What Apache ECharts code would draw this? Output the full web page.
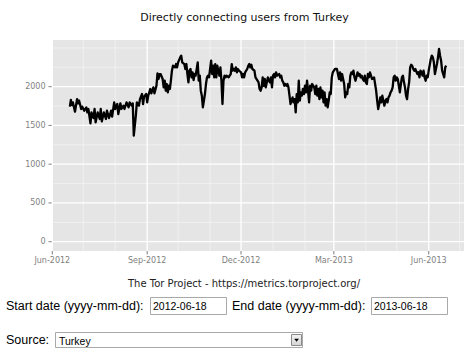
<!DOCTYPE html>
<html>
<head>
<meta charset="utf-8">
<script src="https://cdn.jsdelivr.net/npm/echarts@6/dist/echarts.min.js"></script>
<style>
html,body{margin:0;padding:0;background:#fff;}
#chart{width:473px;height:359px;}
</style>
</head>
<body>
<div id="chart"></div>
<script>
// ---- data (days since 2012-06-18, users) ----
const startDate = '2012-06-18';
const days = [0,1,2,3,5,7,8,9,11,12,14,16,17,18,20,21,23,24,25,27,29,30,31,33,35,36,38,40,41,43,44,46,47,49,50,52,53,55,57,58,60,61,62,64,65,67,68,70,71,72,74,75,76,78,79,81,82,84,85,86,87,
88,90,91,92,93,94,95,96,97,98,99,100,102,103,104,105,107,108,109,111,112,113,114,115,116,117,118,119,120,121,122,124,125,126,127,128,129,131,132,133,134,135,136,137,138,139,140,141,142,143,145,146,147,148,149,150,151,152,154,155,156,157,158,159,160,161,162,163,164,166,167,168,169,170,171,172,173,174,175,176,177,179,180,182,183,184,185,186,
187,188,189,190,191,192,193,194,195,196,197,198,199,200,201,203,204,205,206,207,208,209,210,211,212,213,214,216,217,218,219,220,221,222,223,224,225,226,227,228,229,230,231,232,233,234,235,237,238,239,240,241,242,243,244,245,246,247,248,249,250,251,252,253,254,255,257,259,260,261,262,263,264,266,267,268,269,270,271,272,273,274,275,276,277,279,280,281,282,
283,284,285,286,287,288,289,290,291,292,293,295,296,297,298,299,300,301,302,303,305,306,307,308,309,310,311,312,313,314,315,316,317,318,319,320,321,322,323,324,325,326,327,328,329,330,331,332,333,334,335,337,338,339,340,341,342,343,344,345,346,347,348,350,351,352,353,354,355,356,357,358,359,360,361,363,364,365];
const users = [1742,1828,1763,1797,1677,1840,1785,1819,1712,1742,1690,1733,1668,1712,1527,1668,1595,1712,1540,1668,1583,1712,1552,1668,1583,1690,1595,1690,1613,1797,1712,1776,1647,1785,1712,1755,1712,1797,1733,1797,1755,1785,1368,1626,1797,1755,1840,1905,1776,1871,1905,1797,1883,1970,1914,1991,1914,2012,2172,2099,2163,
2163,2099,1991,2077,1948,2034,1927,2012,1970,2077,2206,2270,2249,2292,2249,2314,2378,2400,2314,2292,2228,2292,2163,2056,2206,2228,2120,2185,2086,2163,2142,2314,2077,2142,1948,1884,1733,1905,2034,2120,2142,2120,2228,2335,2163,2270,2120,2292,2120,2270,2142,2249,2077,1776,2077,2142,2120,2142,2120,2142,2163,2292,2206,2228,2206,2249,2185,2228,2206,2185,2120,2163,2120,2185,2206,2228,2270,2292,2249,2283,2228,2206,2120,2077,2056,1970,1948,1991,
2120,2012,2099,1991,2056,2120,2077,2056,2120,1991,2142,2163,2120,2185,2142,2163,2120,2142,2077,2056,2012,2034,2012,2034,1991,1884,1776,1862,1797,1840,1669,1905,1797,2077,1819,1927,1884,1970,1905,2012,1927,2077,1948,1797,2012,1948,2034,1991,1905,2012,1884,1970,1840,1991,1862,1948,1797,1927,1755,1840,1733,1819,1927,1905,2120,2185,2228,2228,2163,2099,2185,2077,2163,2034,1862,1927,1905,2034,1991,2142,2185,2163,2206,2120,2077,2185,2142,2163,2120,
2142,2099,2077,2142,2056,2034,2163,2120,2185,2142,2099,2120,2034,1948,1819,1712,1776,1862,1797,1884,1755,1819,1840,1797,1862,1884,1927,1948,1991,2120,2142,2077,2120,2099,2012,1927,2034,2120,2142,2056,1991,1884,1840,1970,2056,2249,2283,2270,2228,2206,2228,2163,2185,2120,2206,2185,2142,2206,2120,2077,2142,2120,2206,2357,2400,2378,2314,2163,2228,2292,2378,2486,2400,2335,2206,2120,2249,2270];

// axis ticks / labels
const yMajorTicks = [0, 500, 1000, 1500, 2000];
const yMinorTicks = [250, 750, 1250, 1750, 2250, 2500];
const xMajorTicks = ['2012-06-01','2012-09-01','2012-12-01','2013-03-01','2013-06-01'];
const xMajorLabels = ['Jun-2012','Sep-2012','Dec-2012','Mar-2013','Jun-2013'];
const xMinorTicks = ['2012-07-01','2012-08-01','2012-10-01','2012-11-01','2013-01-01','2013-02-01','2013-04-01','2013-05-01','2013-07-01'];

const titleText = 'Directly connecting users from Turkey';
const captionText = 'The Tor Project - https://metrics.torproject.org/';
const startLabel = 'Start date (yyyy-mm-dd):';
const endLabel = 'End date (yyyy-mm-dd):';
const startValue = '2012-06-18';
const endValue = '2013-06-18';
const sourceLabel = 'Source:';
const sourceValue = 'Turkey';

// ---- build ----
const DAY = 86400000;
function utc(s){ const p = s.split('-').map(Number); return Date.UTC(p[0], p[1]-1, p[2]); }
const t0 = utc(startDate);
const lineData = days.map((d, i) => [t0 + d * DAY, users[i]]);
const X_MIN = utc('2012-05-31') + 17 * 3600000;
const X_MAX = utc('2013-07-05') + 5 * 3600000;
const Y_MIN = -120, Y_MAX = 2602;

const axisFont = 'normal 8px "DejaVu Sans"';
const tickColor = '#7f7f7f';

function vLines(labels, major){
  return function(params, api){
    const cs = params.coordSys;
    const x = api.coord([api.value(0), 0])[0];
    const children = [{
      type: 'line',
      shape: {x1: x, y1: cs.y, x2: x, y2: cs.y + cs.height},
      style: {stroke: major ? '#ffffff' : '#f2f2f2', lineWidth: major ? 1.3 : 0.9}
    }];
    if (major) {
      children.push({
        type: 'line',
        shape: {x1: x, y1: cs.y + cs.height, x2: x, y2: cs.y + cs.height + 3.5},
        style: {stroke: tickColor, lineWidth: 1}
      });
      children.push({
        type: 'text', x: x, y: cs.y + cs.height + 9.5,
        style: {text: labels[params.dataIndex], font: axisFont, fill: tickColor,
                align: 'center', verticalAlign: 'middle', textAlign: 'center', textVerticalAlign: 'middle'}
      });
    }
    return {type: 'group', children: children};
  };
}
function hLines(major){
  return function(params, api){
    const cs = params.coordSys;
    const y = api.coord([X_MIN, api.value(1)])[1];
    const children = [{
      type: 'line',
      shape: {x1: cs.x, y1: y, x2: cs.x + cs.width, y2: y},
      style: {stroke: major ? '#ffffff' : '#f2f2f2', lineWidth: major ? 1.3 : 0.9}
    }];
    if (major) {
      children.push({
        type: 'line',
        shape: {x1: cs.x - 3.5, y1: y, x2: cs.x, y2: y},
        style: {stroke: tickColor, lineWidth: 1}
      });
      children.push({
        type: 'text', x: cs.x - 6.5, y: y,
        style: {text: String(api.value(1)), font: axisFont, fill: tickColor,
                align: 'right', verticalAlign: 'middle', textAlign: 'right', textVerticalAlign: 'middle'}
      });
    }
    return {type: 'group', children: children};
  };
}

const formFont = 'normal 12.5px "Liberation Sans"';
const inputFont = 'normal 10.5px "Liberation Sans"';
function txt(x, y, text, font, align, fill){
  return {type: 'text', x: x, y: y, silent: true,
    style: {text: text, font: font, fill: fill || '#000', align: align, verticalAlign: 'middle',
            textAlign: align, textVerticalAlign: 'middle'}};
}
function box(x, y, w, h){
  return {type: 'rect', shape: {x: x, y: y, width: w, height: h},
    style: {fill: '#ffffff', stroke: '#a9a9a9', lineWidth: 1}};
}

const chart = echarts.init(document.getElementById('chart'), null, {renderer: 'svg'});
chart.setOption({
  animation: false,
  backgroundColor: '#ffffff',
  grid: {left: 52, right: 9, top: 40, bottom: 108, show: true, backgroundColor: '#e5e5e5', borderWidth: 0},
  xAxis: {type: 'time', min: X_MIN, max: X_MAX, show: false},
  yAxis: {type: 'value', min: Y_MIN, max: Y_MAX, show: false},
  series: [
    {type: 'custom', z: 1, silent: true, clip: false, data: yMinorTicks.map(v => [X_MIN, v]), renderItem: hLines(false)},
    {type: 'custom', z: 1, silent: true, clip: false, data: xMinorTicks.map(s => [utc(s), 0]), renderItem: vLines(null, false)},
    {type: 'custom', z: 2, silent: true, clip: false, data: yMajorTicks.map(v => [X_MIN, v]), renderItem: hLines(true)},
    {type: 'custom', z: 2, silent: true, clip: false, data: xMajorTicks.map(s => [utc(s), 0]), renderItem: vLines(xMajorLabels, true)},
    {type: 'line', z: 5, data: lineData, showSymbol: false, symbol: 'none',
      lineStyle: {color: '#000000', width: 2.3, join: 'round'}, silent: true}
  ],
  graphic: [
    txt(244.5, 17.5, titleText, 'normal 11px "DejaVu Sans"', 'center', '#111'),
    txt(244, 283, captionText, 'normal 10px "DejaVu Sans"', 'center', '#222'),
    txt(6, 306, startLabel, formFont, 'left'),
    box(150.5, 297.5, 76, 17),
    txt(153, 306, startValue, inputFont, 'left'),
    txt(232, 306, endLabel, formFont, 'left'),
    box(371.5, 297.5, 76, 17),
    txt(374, 306, endValue, inputFont, 'left'),
    txt(6, 340, sourceLabel, formFont, 'left'),
    box(55.5, 332.5, 247, 15),
    txt(59, 340.5, sourceValue, inputFont, 'left'),
    {type: 'rect', shape: {x: 291.5, y: 334.5, width: 10, height: 11},
      style: {fill: new echarts.graphic.LinearGradient(0, 0, 0, 1, [{offset: 0, color: '#f4f4f4'}, {offset: 1, color: '#d4d4d4'}]),
              stroke: '#8a8a8a', lineWidth: 1}},
    {type: 'polygon', shape: {points: [[294.2, 338.8], [299, 338.8], [296.6, 341.8]]}, style: {fill: '#000'}}
  ]
});
</script>
</body>
</html>
